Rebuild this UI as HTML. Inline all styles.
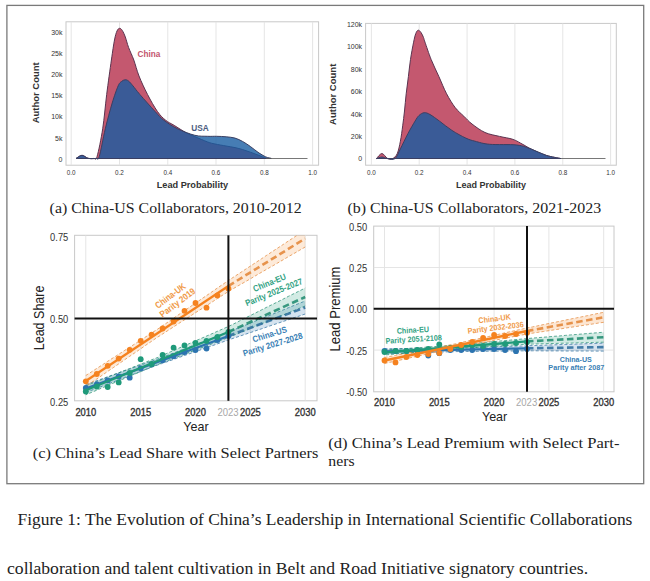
<!DOCTYPE html>
<html><head><meta charset="utf-8"><style>
html,body{margin:0;padding:0;background:#fff;width:650px;height:581px;overflow:hidden}
svg{display:block}
text{font-family:"Liberation Sans", sans-serif}
text.serif{font-family:"Liberation Serif", serif}
</style></head><body>
<svg width="650" height="581" viewBox="0 0 650 581">
<rect x="6.9" y="5.4" width="636.8" height="478.3" fill="none" stroke="#7a7a7a" stroke-width="1.3"/>
<rect x="66.0" y="21.8" width="252.6" height="143.4" fill="#fff" stroke="#c8c8c8" stroke-width="1"/>
<line x1="71.2" y1="21.8" x2="71.2" y2="165.2" stroke="#e2e2e2" stroke-width="0.9"/>
<line x1="119.5" y1="21.8" x2="119.5" y2="165.2" stroke="#e2e2e2" stroke-width="0.9"/>
<line x1="167.8" y1="21.8" x2="167.8" y2="165.2" stroke="#e2e2e2" stroke-width="0.9"/>
<line x1="216.0" y1="21.8" x2="216.0" y2="165.2" stroke="#e2e2e2" stroke-width="0.9"/>
<line x1="264.3" y1="21.8" x2="264.3" y2="165.2" stroke="#e2e2e2" stroke-width="0.9"/>
<line x1="312.6" y1="21.8" x2="312.6" y2="165.2" stroke="#e2e2e2" stroke-width="0.9"/>
<path d="M76.00,158.50 C77.00,157.97 80.00,155.33 82.00,155.30 C84.00,155.27 86.00,157.78 88.00,158.30 C90.00,158.82 92.48,158.72 94.00,158.40 C95.52,158.08 95.65,161.33 97.10,156.40 C98.55,151.47 101.10,139.13 102.70,128.80 C104.30,118.47 105.25,105.87 106.70,94.40 C108.15,82.93 110.10,69.07 111.40,60.00 C112.70,50.93 113.57,44.83 114.50,40.00 C115.43,35.17 116.15,32.95 117.00,31.00 C117.85,29.05 118.72,28.38 119.60,28.30 C120.48,28.22 121.35,29.05 122.30,30.50 C123.25,31.95 124.25,34.17 125.30,37.00 C126.35,39.83 127.18,43.67 128.60,47.50 C130.02,51.33 132.07,55.25 133.80,60.00 C135.53,64.75 136.72,70.27 139.00,76.00 C141.28,81.73 144.42,88.47 147.50,94.40 C150.58,100.33 154.48,107.30 157.50,111.60 C160.52,115.90 162.82,117.90 165.60,120.20 C168.38,122.50 170.77,123.30 174.20,125.40 C177.63,127.50 182.77,130.93 186.20,132.80 C189.63,134.67 191.22,135.07 194.80,136.60 C198.38,138.13 204.33,140.77 207.70,142.00 C211.07,143.23 211.95,143.33 215.00,144.00 C218.05,144.67 222.67,145.40 226.00,146.00 C229.33,146.60 232.22,147.00 235.00,147.60 C237.78,148.20 240.13,148.83 242.70,149.60 C245.27,150.37 247.85,151.30 250.40,152.20 C252.95,153.10 255.40,153.98 258.00,155.00 C260.60,156.02 264.67,157.75 266.00,158.30 L266.0,158.5 L76.0,158.5 Z" fill="#c4586f" stroke="#5a3450" stroke-width="1"/>
<path d="M76.00,158.50 C77.00,157.97 80.00,155.33 82.00,155.30 C84.00,155.27 85.67,157.78 88.00,158.30 C90.33,158.82 94.12,158.72 96.00,158.40 C97.88,158.08 97.75,161.33 99.30,156.40 C100.85,151.47 103.15,137.70 105.30,128.80 C107.45,119.90 110.05,110.17 112.20,103.00 C114.35,95.83 116.65,89.38 118.20,85.80 C119.75,82.22 120.35,82.50 121.50,81.50 C122.65,80.50 123.93,79.88 125.10,79.80 C126.27,79.72 127.20,80.00 128.50,81.00 C129.80,82.00 131.02,83.57 132.90,85.80 C134.78,88.03 136.08,90.10 139.80,94.40 C143.52,98.70 151.20,107.30 155.20,111.60 C159.20,115.90 160.07,117.33 163.80,120.20 C167.53,123.07 172.43,126.28 177.60,128.80 C182.77,131.32 189.78,134.05 194.80,135.30 C199.82,136.55 204.08,136.13 207.70,136.30 C211.32,136.47 213.42,136.22 216.50,136.30 C219.58,136.38 223.12,136.50 226.20,136.80 C229.28,137.10 232.25,137.32 235.00,138.10 C237.75,138.88 240.13,140.10 242.70,141.50 C245.27,142.90 247.85,144.70 250.40,146.50 C252.95,148.30 255.43,150.57 258.00,152.30 C260.57,154.03 263.60,155.90 265.80,156.90 C268.00,157.90 270.30,158.07 271.20,158.30 L271.2,158.5 L76.0,158.5 Z" fill="#185ca1" fill-opacity="0.8" stroke="#3a3f62" stroke-width="1"/>
<line x1="266.0" y1="158.5" x2="307.5" y2="158.5" stroke="#555" stroke-width="0.8"/>
<text x="71.2" y="174.6" font-size="6.3" text-anchor="middle" fill="#333">0.0</text>
<text x="119.5" y="174.6" font-size="6.3" text-anchor="middle" fill="#333">0.2</text>
<text x="167.8" y="174.6" font-size="6.3" text-anchor="middle" fill="#333">0.4</text>
<text x="216.0" y="174.6" font-size="6.3" text-anchor="middle" fill="#333">0.6</text>
<text x="264.3" y="174.6" font-size="6.3" text-anchor="middle" fill="#333">0.8</text>
<text x="312.6" y="174.6" font-size="6.3" text-anchor="middle" fill="#333">1.0</text>
<text x="62.5" y="34.6" font-size="7" text-anchor="end" fill="#333">30k</text>
<text x="62.5" y="55.8" font-size="7" text-anchor="end" fill="#333">25k</text>
<text x="62.5" y="77.0" font-size="7" text-anchor="end" fill="#333">20k</text>
<text x="62.5" y="98.2" font-size="7" text-anchor="end" fill="#333">15k</text>
<text x="62.5" y="119.4" font-size="7" text-anchor="end" fill="#333">10k</text>
<text x="62.5" y="140.6" font-size="7" text-anchor="end" fill="#333">5k</text>
<text x="62.5" y="161.8" font-size="7" text-anchor="end" fill="#333">0</text>
<text x="137.5" y="56.6" font-size="8.2" font-weight="bold" fill="#c2546e">China</text>
<text x="191.3" y="131.2" font-size="8.3" font-weight="bold" fill="#4d5d80">USA</text>
<text x="39.5" y="92.8" font-size="9.8" font-weight="bold" fill="#333" text-anchor="middle" textLength="61" lengthAdjust="spacingAndGlyphs" transform="rotate(-90 39.5 92.8)">Author Count</text>
<text x="192.4" y="187.8" font-size="9.2" font-weight="bold" fill="#333" text-anchor="middle">Lead Probability</text>
<rect x="365.6" y="23.4" width="250.7" height="141.8" fill="#fff" stroke="#c8c8c8" stroke-width="1"/>
<line x1="371.4" y1="23.4" x2="371.4" y2="165.2" stroke="#e2e2e2" stroke-width="0.9"/>
<line x1="419.2" y1="23.4" x2="419.2" y2="165.2" stroke="#e2e2e2" stroke-width="0.9"/>
<line x1="467.1" y1="23.4" x2="467.1" y2="165.2" stroke="#e2e2e2" stroke-width="0.9"/>
<line x1="514.9" y1="23.4" x2="514.9" y2="165.2" stroke="#e2e2e2" stroke-width="0.9"/>
<line x1="562.8" y1="23.4" x2="562.8" y2="165.2" stroke="#e2e2e2" stroke-width="0.9"/>
<line x1="610.6" y1="23.4" x2="610.6" y2="165.2" stroke="#e2e2e2" stroke-width="0.9"/>
<path d="M376.50,158.60 C377.40,157.75 380.07,153.53 381.90,153.50 C383.73,153.47 385.70,157.55 387.50,158.40 C389.30,159.25 391.07,159.42 392.70,158.60 C394.33,157.78 396.02,156.40 397.30,153.50 C398.58,150.60 399.50,145.82 400.40,141.20 C401.30,136.58 402.02,130.83 402.70,125.80 C403.38,120.77 403.92,116.33 404.50,111.00 C405.08,105.67 405.55,99.53 406.20,93.80 C406.85,88.07 407.68,82.33 408.40,76.60 C409.12,70.87 409.63,65.13 410.50,59.40 C411.37,53.67 412.72,46.52 413.60,42.20 C414.48,37.88 415.03,35.50 415.80,33.50 C416.57,31.50 417.33,30.37 418.20,30.20 C419.07,30.03 420.12,31.28 421.00,32.50 C421.88,33.72 422.83,35.88 423.50,37.50 C424.17,39.12 423.73,38.55 425.00,42.20 C426.27,45.85 428.78,53.67 431.10,59.40 C433.42,65.13 436.32,70.87 438.90,76.60 C441.48,82.33 443.88,88.63 446.60,93.80 C449.32,98.97 452.33,103.87 455.20,107.60 C458.07,111.33 461.00,113.47 463.80,116.20 C466.60,118.93 468.47,121.28 472.00,124.00 C475.53,126.72 480.42,130.43 485.00,132.50 C489.58,134.57 494.83,135.25 499.50,136.40 C504.17,137.55 509.08,138.05 513.00,139.40 C516.92,140.75 519.92,142.87 523.00,144.50 C526.08,146.13 527.62,147.38 531.50,149.20 C535.38,151.02 541.38,153.83 546.30,155.40 C551.22,156.97 558.55,158.07 561.00,158.60 L561.0,158.5 L376.5,158.5 Z" fill="#c4586f" stroke="#5a3450" stroke-width="1"/>
<path d="M376.50,158.60 C377.40,158.33 380.07,157.00 381.90,157.00 C383.73,157.00 385.32,158.33 387.50,158.60 C389.68,158.87 392.85,160.23 395.00,158.60 C397.15,156.97 398.23,152.98 400.40,148.80 C402.57,144.62 405.57,138.10 408.00,133.50 C410.43,128.90 413.17,124.20 415.00,121.20 C416.83,118.20 417.47,116.92 419.00,115.50 C420.53,114.08 422.37,112.87 424.20,112.70 C426.03,112.53 427.43,113.08 430.00,114.50 C432.57,115.92 435.95,118.55 439.60,121.20 C443.25,123.85 447.53,127.58 451.90,130.40 C456.27,133.22 461.95,136.30 465.80,138.10 C469.65,139.90 471.02,140.17 475.00,141.20 C478.98,142.23 482.73,143.67 489.70,144.30 C496.67,144.93 509.83,144.18 516.80,145.00 C523.77,145.82 526.58,147.47 531.50,149.20 C536.42,150.93 541.38,153.83 546.30,155.40 C551.22,156.97 558.55,158.07 561.00,158.60 L561.0,158.5 L376.5,158.5 Z" fill="#185ca1" fill-opacity="0.8" stroke="#3a3f62" stroke-width="1"/>
<line x1="561.0" y1="158.5" x2="605.5" y2="158.5" stroke="#555" stroke-width="0.8"/>
<text x="371.4" y="174.6" font-size="6.3" text-anchor="middle" fill="#333">0.0</text>
<text x="419.2" y="174.6" font-size="6.3" text-anchor="middle" fill="#333">0.2</text>
<text x="467.1" y="174.6" font-size="6.3" text-anchor="middle" fill="#333">0.4</text>
<text x="514.9" y="174.6" font-size="6.3" text-anchor="middle" fill="#333">0.6</text>
<text x="562.8" y="174.6" font-size="6.3" text-anchor="middle" fill="#333">0.8</text>
<text x="610.6" y="174.6" font-size="6.3" text-anchor="middle" fill="#333">1.0</text>
<text x="362.1" y="27.0" font-size="7" text-anchor="end" fill="#333">120k</text>
<text x="362.1" y="49.4" font-size="7" text-anchor="end" fill="#333">100k</text>
<text x="362.1" y="71.8" font-size="7" text-anchor="end" fill="#333">80k</text>
<text x="362.1" y="94.2" font-size="7" text-anchor="end" fill="#333">60k</text>
<text x="362.1" y="116.6" font-size="7" text-anchor="end" fill="#333">40k</text>
<text x="362.1" y="139.0" font-size="7" text-anchor="end" fill="#333">20k</text>
<text x="362.1" y="161.4" font-size="7" text-anchor="end" fill="#333">0</text>
<text x="336" y="94.3" font-size="9.5" font-weight="bold" fill="#333" text-anchor="middle" transform="rotate(-90 336 94.3)">Author Count</text>
<text x="491" y="187.8" font-size="9.0" font-weight="bold" fill="#333" text-anchor="middle">Lead Probability</text>
<text x="49.6" y="213.4" font-size="15.4" textLength="252" lengthAdjust="spacingAndGlyphs" fill="#222" class="serif">(a) China-US Collaborators, 2010-2012</text>
<text x="347.5" y="213.2" font-size="15.4" textLength="253.7" lengthAdjust="spacingAndGlyphs" fill="#222" class="serif">(b) China-US Collaborators, 2021-2023</text>
<text x="32.8" y="458.3" font-size="15.4" textLength="285.6" lengthAdjust="spacingAndGlyphs" fill="#222" class="serif">(c) China’s Lead Share with Select Partners</text>
<text x="328.3" y="447.7" font-size="15.4" textLength="291.2" lengthAdjust="spacingAndGlyphs" fill="#222" class="serif">(d) China’s Lead Premium with Select Part-</text>
<text x="328.3" y="465.7" font-size="15.4" textLength="26.3" lengthAdjust="spacingAndGlyphs" fill="#222" class="serif">ners</text>
<text x="17.5" y="524.9" font-size="16.2" textLength="614.9" lengthAdjust="spacingAndGlyphs" fill="#222" class="serif">Figure 1: The Evolution of China’s Leadership in International Scientific Collaborations</text>
<text x="7" y="573.8" font-size="16.2" textLength="581.1" lengthAdjust="spacingAndGlyphs" fill="#222" class="serif">collaboration and talent cultivation in Belt and Road Initiative signatory countries.</text>
<rect x="74.6" y="235.3" width="242.4" height="165.5" fill="#fff" stroke="#c8c8c8" stroke-width="1"/>
<line x1="85.8" y1="235.3" x2="85.8" y2="400.8" stroke="#e2e2e2" stroke-width="0.9"/>
<line x1="140.7" y1="235.3" x2="140.7" y2="400.8" stroke="#e2e2e2" stroke-width="0.9"/>
<line x1="195.5" y1="235.3" x2="195.5" y2="400.8" stroke="#e2e2e2" stroke-width="0.9"/>
<line x1="250.4" y1="235.3" x2="250.4" y2="400.8" stroke="#e2e2e2" stroke-width="0.9"/>
<line x1="305.2" y1="235.3" x2="305.2" y2="400.8" stroke="#e2e2e2" stroke-width="0.9"/>
<clipPath id="cc"><rect x="74.6" y="235.3" width="242.4" height="165.5"/></clipPath>
<g clip-path="url(#cc)">
<path d="M85.8,384.5 L91.3,382.6 L96.8,380.6 L102.3,378.7 L107.7,376.7 L113.2,374.8 L118.7,372.8 L124.2,370.9 L129.7,369.0 L135.2,367.0 L140.7,365.1 L146.1,363.1 L151.6,361.2 L157.1,359.2 L162.6,357.2 L168.1,355.1 L173.6,353.0 L179.0,350.9 L184.5,348.8 L190.0,346.7 L195.5,344.6 L201.0,342.5 L206.5,340.4 L212.0,338.3 L217.4,336.2 L222.9,334.1 L228.4,332.0 L233.9,329.8 L239.4,327.6 L244.9,325.4 L250.4,323.1 L255.8,320.9 L261.3,318.7 L266.8,316.5 L272.3,314.3 L277.8,312.1 L283.3,309.9 L288.7,307.6 L294.2,305.4 L299.7,303.2 L305.2,301.0 L305.2,314.0 L299.7,315.9 L294.2,317.7 L288.7,319.6 L283.3,321.4 L277.8,323.3 L272.3,325.1 L266.8,327.0 L261.3,328.9 L255.8,330.7 L250.4,332.6 L244.9,334.4 L239.4,336.3 L233.9,338.1 L228.4,340.0 L222.9,341.9 L217.4,343.9 L212.0,345.8 L206.5,347.8 L201.0,349.7 L195.5,351.7 L190.0,353.6 L184.5,355.5 L179.0,357.5 L173.6,359.4 L168.1,361.4 L162.6,363.3 L157.1,365.2 L151.6,367.3 L146.1,369.4 L140.7,371.5 L135.2,373.6 L129.7,375.7 L124.2,377.8 L118.7,379.9 L113.2,382.0 L107.7,384.1 L102.3,386.2 L96.8,388.3 L91.3,390.4 L85.8,392.5 Z" fill="#2c74b0" fill-opacity="0.20"/>
<polyline points="85.8,384.5 91.3,382.6 96.8,380.6 102.3,378.7 107.7,376.7 113.2,374.8 118.7,372.8 124.2,370.9 129.7,369.0 135.2,367.0 140.7,365.1 146.1,363.1 151.6,361.2 157.1,359.2 162.6,357.2 168.1,355.1 173.6,353.0 179.0,350.9 184.5,348.8 190.0,346.7 195.5,344.6 201.0,342.5 206.5,340.4 212.0,338.3 217.4,336.2 222.9,334.1 228.4,332.0 233.9,329.8 239.4,327.6 244.9,325.4 250.4,323.1 255.8,320.9 261.3,318.7 266.8,316.5 272.3,314.3 277.8,312.1 283.3,309.9 288.7,307.6 294.2,305.4 299.7,303.2 305.2,301.0" fill="none" stroke="#2a6c9c" stroke-width="1" stroke-dasharray="3,2" opacity="0.7"/>
<polyline points="305.2,314.0 299.7,315.9 294.2,317.7 288.7,319.6 283.3,321.4 277.8,323.3 272.3,325.1 266.8,327.0 261.3,328.9 255.8,330.7 250.4,332.6 244.9,334.4 239.4,336.3 233.9,338.1 228.4,340.0 222.9,341.9 217.4,343.9 212.0,345.8 206.5,347.8 201.0,349.7 195.5,351.7 190.0,353.6 184.5,355.5 179.0,357.5 173.6,359.4 168.1,361.4 162.6,363.3 157.1,365.2 151.6,367.3 146.1,369.4 140.7,371.5 135.2,373.6 129.7,375.7 124.2,377.8 118.7,379.9 113.2,382.0 107.7,384.1 102.3,386.2 96.8,388.3 91.3,390.4 85.8,392.5" fill="none" stroke="#2a6c9c" stroke-width="1" stroke-dasharray="3,2" opacity="0.7"/>
<path d="M85.8,385.8 L91.3,383.6 L96.8,381.5 L102.3,379.3 L107.7,377.1 L113.2,375.0 L118.7,372.8 L124.2,370.6 L129.7,368.5 L135.2,366.3 L140.7,364.1 L146.1,362.0 L151.6,359.8 L157.1,357.7 L162.6,355.3 L168.1,352.9 L173.6,350.5 L179.0,348.1 L184.5,345.7 L190.0,343.3 L195.5,340.9 L201.0,338.5 L206.5,336.1 L212.0,333.7 L217.4,331.3 L222.9,328.9 L228.4,326.5 L233.9,323.8 L239.4,321.0 L244.9,318.2 L250.4,315.5 L255.8,312.8 L261.3,310.0 L266.8,307.2 L272.3,304.5 L277.8,301.8 L283.3,299.0 L288.7,296.2 L294.2,293.5 L299.7,290.8 L305.2,288.0 L305.2,306.0 L299.7,308.2 L294.2,310.5 L288.7,312.8 L283.3,315.0 L277.8,317.2 L272.3,319.5 L266.8,321.8 L261.3,324.0 L255.8,326.2 L250.4,328.5 L244.9,330.8 L239.4,333.0 L233.9,335.2 L228.4,337.5 L222.9,339.6 L217.4,341.7 L212.0,343.8 L206.5,345.9 L201.0,347.9 L195.5,350.0 L190.0,352.1 L184.5,354.2 L179.0,356.3 L173.6,358.4 L168.1,360.5 L162.6,362.6 L157.1,364.7 L151.6,367.0 L146.1,369.3 L140.7,371.6 L135.2,373.9 L129.7,376.2 L124.2,378.6 L118.7,380.9 L113.2,383.2 L107.7,385.5 L102.3,387.8 L96.8,390.2 L91.3,392.5 L85.8,394.8 Z" fill="#1f9a7a" fill-opacity="0.20"/>
<polyline points="85.8,385.8 91.3,383.6 96.8,381.5 102.3,379.3 107.7,377.1 113.2,375.0 118.7,372.8 124.2,370.6 129.7,368.5 135.2,366.3 140.7,364.1 146.1,362.0 151.6,359.8 157.1,357.7 162.6,355.3 168.1,352.9 173.6,350.5 179.0,348.1 184.5,345.7 190.0,343.3 195.5,340.9 201.0,338.5 206.5,336.1 212.0,333.7 217.4,331.3 222.9,328.9 228.4,326.5 233.9,323.8 239.4,321.0 244.9,318.2 250.4,315.5 255.8,312.8 261.3,310.0 266.8,307.2 272.3,304.5 277.8,301.8 283.3,299.0 288.7,296.2 294.2,293.5 299.7,290.8 305.2,288.0" fill="none" stroke="#1d8a6e" stroke-width="1" stroke-dasharray="3,2" opacity="0.7"/>
<polyline points="305.2,306.0 299.7,308.2 294.2,310.5 288.7,312.8 283.3,315.0 277.8,317.2 272.3,319.5 266.8,321.8 261.3,324.0 255.8,326.2 250.4,328.5 244.9,330.8 239.4,333.0 233.9,335.2 228.4,337.5 222.9,339.6 217.4,341.7 212.0,343.8 206.5,345.9 201.0,347.9 195.5,350.0 190.0,352.1 184.5,354.2 179.0,356.3 173.6,358.4 168.1,360.5 162.6,362.6 157.1,364.7 151.6,367.0 146.1,369.3 140.7,371.6 135.2,373.9 129.7,376.2 124.2,378.6 118.7,380.9 113.2,383.2 107.7,385.5 102.3,387.8 96.8,390.2 91.3,392.5 85.8,394.8" fill="none" stroke="#1d8a6e" stroke-width="1" stroke-dasharray="3,2" opacity="0.7"/>
<path d="M85.8,375.5 L91.3,372.0 L96.8,368.4 L102.3,364.9 L107.7,361.3 L113.2,357.8 L118.7,354.3 L124.2,350.7 L129.7,347.2 L135.2,343.7 L140.7,340.1 L146.1,336.6 L151.6,333.0 L157.1,329.5 L162.6,325.7 L168.1,322.0 L173.6,318.2 L179.0,314.4 L184.5,310.7 L190.0,306.9 L195.5,303.1 L201.0,299.3 L206.5,295.6 L212.0,291.8 L217.4,288.0 L222.9,284.3 L228.4,280.5 L233.9,276.9 L239.4,273.3 L244.9,269.7 L250.4,266.1 L255.8,262.5 L261.3,258.9 L266.8,255.2 L272.3,251.6 L277.8,248.0 L283.3,244.4 L288.7,240.8 L294.2,237.2 L299.7,233.6 L305.2,230.0 L305.2,247.0 L299.7,250.2 L294.2,253.4 L288.7,256.5 L283.3,259.7 L277.8,262.9 L272.3,266.1 L266.8,269.2 L261.3,272.4 L255.8,275.6 L250.4,278.8 L244.9,282.0 L239.4,285.1 L233.9,288.3 L228.4,291.5 L222.9,295.0 L217.4,298.6 L212.0,302.1 L206.5,305.7 L201.0,309.2 L195.5,312.7 L190.0,316.3 L184.5,319.8 L179.0,323.3 L173.6,326.9 L168.1,330.4 L162.6,334.0 L157.1,337.5 L151.6,341.3 L146.1,345.0 L140.7,348.8 L135.2,352.6 L129.7,356.3 L124.2,360.1 L118.7,363.9 L113.2,367.7 L107.7,371.4 L102.3,375.2 L96.8,379.0 L91.3,382.7 L85.8,386.5 Z" fill="#f5821f" fill-opacity="0.17"/>
<polyline points="85.8,375.5 91.3,372.0 96.8,368.4 102.3,364.9 107.7,361.3 113.2,357.8 118.7,354.3 124.2,350.7 129.7,347.2 135.2,343.7 140.7,340.1 146.1,336.6 151.6,333.0 157.1,329.5 162.6,325.7 168.1,322.0 173.6,318.2 179.0,314.4 184.5,310.7 190.0,306.9 195.5,303.1 201.0,299.3 206.5,295.6 212.0,291.8 217.4,288.0 222.9,284.3 228.4,280.5 233.9,276.9 239.4,273.3 244.9,269.7 250.4,266.1 255.8,262.5 261.3,258.9 266.8,255.2 272.3,251.6 277.8,248.0 283.3,244.4 288.7,240.8 294.2,237.2 299.7,233.6 305.2,230.0" fill="none" stroke="#e38434" stroke-width="1" stroke-dasharray="3,2" opacity="0.7"/>
<polyline points="305.2,247.0 299.7,250.2 294.2,253.4 288.7,256.5 283.3,259.7 277.8,262.9 272.3,266.1 266.8,269.2 261.3,272.4 255.8,275.6 250.4,278.8 244.9,282.0 239.4,285.1 233.9,288.3 228.4,291.5 222.9,295.0 217.4,298.6 212.0,302.1 206.5,305.7 201.0,309.2 195.5,312.7 190.0,316.3 184.5,319.8 179.0,323.3 173.6,326.9 168.1,330.4 162.6,334.0 157.1,337.5 151.6,341.3 146.1,345.0 140.7,348.8 135.2,352.6 129.7,356.3 124.2,360.1 118.7,363.9 113.2,367.7 107.7,371.4 102.3,375.2 96.8,379.0 91.3,382.7 85.8,386.5" fill="none" stroke="#e38434" stroke-width="1" stroke-dasharray="3,2" opacity="0.7"/>
<line x1="85.8" y1="388.5" x2="228.4" y2="336.0" stroke="#2c74b0" stroke-width="2.3"/>
<line x1="228.4" y1="336.0" x2="305.2" y2="307.5" stroke="#2a6c9c" stroke-width="2.6" stroke-dasharray="6.5,3.5" opacity="0.85"/>
<circle cx="85.8" cy="388.0" r="2.9" fill="#2c74b0"/>
<circle cx="96.8" cy="384.5" r="2.9" fill="#2c74b0"/>
<circle cx="107.7" cy="380.4" r="2.9" fill="#2c74b0"/>
<circle cx="118.7" cy="376.4" r="2.9" fill="#2c74b0"/>
<circle cx="129.7" cy="377.7" r="2.9" fill="#2c74b0"/>
<circle cx="140.7" cy="368.3" r="2.9" fill="#2c74b0"/>
<circle cx="151.6" cy="364.3" r="2.9" fill="#2c74b0"/>
<circle cx="162.6" cy="360.2" r="2.9" fill="#2c74b0"/>
<circle cx="173.6" cy="356.2" r="2.9" fill="#2c74b0"/>
<circle cx="184.5" cy="352.1" r="2.9" fill="#2c74b0"/>
<circle cx="195.5" cy="350.0" r="2.9" fill="#2c74b0"/>
<circle cx="206.5" cy="348.5" r="2.9" fill="#2c74b0"/>
<circle cx="217.4" cy="340.0" r="2.9" fill="#2c74b0"/>
<circle cx="228.4" cy="336.0" r="2.9" fill="#2c74b0"/>
<line x1="85.8" y1="390.3" x2="228.4" y2="332.0" stroke="#1f9a7a" stroke-width="2.3"/>
<line x1="228.4" y1="332.0" x2="305.2" y2="297.0" stroke="#1d8a6e" stroke-width="2.6" stroke-dasharray="6.5,3.5" opacity="0.85"/>
<circle cx="85.8" cy="391.5" r="2.9" fill="#1f9a7a"/>
<circle cx="96.8" cy="386.5" r="2.9" fill="#1f9a7a"/>
<circle cx="107.7" cy="387.0" r="2.9" fill="#1f9a7a"/>
<circle cx="118.7" cy="382.4" r="2.9" fill="#1f9a7a"/>
<circle cx="129.7" cy="373.0" r="2.9" fill="#1f9a7a"/>
<circle cx="140.7" cy="359.2" r="2.9" fill="#1f9a7a"/>
<circle cx="151.6" cy="364.0" r="2.9" fill="#1f9a7a"/>
<circle cx="162.6" cy="355.0" r="2.9" fill="#1f9a7a"/>
<circle cx="173.6" cy="347.7" r="2.9" fill="#1f9a7a"/>
<circle cx="184.5" cy="345.4" r="2.9" fill="#1f9a7a"/>
<circle cx="195.5" cy="343.0" r="2.9" fill="#1f9a7a"/>
<circle cx="206.5" cy="341.0" r="2.9" fill="#1f9a7a"/>
<circle cx="217.4" cy="337.0" r="2.9" fill="#1f9a7a"/>
<circle cx="228.4" cy="332.0" r="2.9" fill="#1f9a7a"/>
<line x1="85.8" y1="381.0" x2="228.4" y2="286.0" stroke="#f5821f" stroke-width="2.3"/>
<line x1="228.4" y1="286.0" x2="305.2" y2="238.5" stroke="#e38434" stroke-width="2.6" stroke-dasharray="6.5,3.5" opacity="0.85"/>
<circle cx="85.8" cy="381.3" r="2.9" fill="#f5821f"/>
<circle cx="96.8" cy="374.0" r="2.9" fill="#f5821f"/>
<circle cx="107.7" cy="365.8" r="2.9" fill="#f5821f"/>
<circle cx="118.7" cy="358.6" r="2.9" fill="#f5821f"/>
<circle cx="129.7" cy="349.8" r="2.9" fill="#f5821f"/>
<circle cx="140.7" cy="340.8" r="2.9" fill="#f5821f"/>
<circle cx="151.6" cy="334.6" r="2.9" fill="#f5821f"/>
<circle cx="162.6" cy="328.5" r="2.9" fill="#f5821f"/>
<circle cx="173.6" cy="321.5" r="2.9" fill="#f5821f"/>
<circle cx="184.5" cy="310.8" r="2.9" fill="#f5821f"/>
<circle cx="195.5" cy="303.0" r="2.9" fill="#f5821f"/>
<circle cx="206.5" cy="307.7" r="2.9" fill="#f5821f"/>
<circle cx="217.4" cy="295.4" r="2.9" fill="#f5821f"/>
<circle cx="228.4" cy="288.5" r="2.9" fill="#f5821f"/>
</g>
<line x1="74.6" y1="318.5" x2="317.0" y2="318.5" stroke="#111" stroke-width="2"/>
<line x1="228.4" y1="235.3" x2="228.4" y2="400.8" stroke="#111" stroke-width="2"/>
<text x="85.8" y="415.5" font-size="10.5" text-anchor="middle" fill="#333" stroke="#333" stroke-width="0.35" textLength="20.8" lengthAdjust="spacingAndGlyphs">2010</text>
<text x="140.7" y="415.5" font-size="10.5" text-anchor="middle" fill="#333" stroke="#333" stroke-width="0.35" textLength="20.8" lengthAdjust="spacingAndGlyphs">2015</text>
<text x="195.5" y="415.5" font-size="10.5" text-anchor="middle" fill="#333" stroke="#333" stroke-width="0.35" textLength="20.8" lengthAdjust="spacingAndGlyphs">2020</text>
<text x="250.4" y="415.5" font-size="10.5" text-anchor="middle" fill="#333" stroke="#333" stroke-width="0.35" textLength="20.8" lengthAdjust="spacingAndGlyphs">2025</text>
<text x="305.2" y="415.5" font-size="10.5" text-anchor="middle" fill="#333" stroke="#333" stroke-width="0.35" textLength="20.8" lengthAdjust="spacingAndGlyphs">2030</text>
<text x="228.0" y="415.5" font-size="10.5" text-anchor="middle" fill="#a8a8a8" textLength="21.2" lengthAdjust="spacingAndGlyphs">2023</text>
<text x="68.3" y="240.6" font-size="10.4" text-anchor="end" fill="#333" textLength="18.2" lengthAdjust="spacingAndGlyphs">0.75</text>
<text x="68.3" y="323.1" font-size="10.4" text-anchor="end" fill="#333" textLength="18.2" lengthAdjust="spacingAndGlyphs">0.50</text>
<text x="68.3" y="405.6" font-size="10.4" text-anchor="end" fill="#333" textLength="18.2" lengthAdjust="spacingAndGlyphs">0.25</text>
<text x="196.0" y="430.8" font-size="13" text-anchor="middle" fill="#222" textLength="25.3" lengthAdjust="spacingAndGlyphs">Year</text>
<text x="44.0" y="317.9" font-size="14.5" text-anchor="middle" fill="#222" transform="rotate(-90 44.0 317.9)" textLength="64.7" lengthAdjust="spacingAndGlyphs">Lead Share</text>
<g transform="translate(172.2,298.2) rotate(-37.0)"><text x="0.0" y="0.0" font-size="9.2" font-weight="bold" fill="#f09a48" text-anchor="middle" textLength="35.5" lengthAdjust="spacingAndGlyphs">China-UK</text><text x="1.5" y="9.8" font-size="9.2" font-weight="bold" fill="#f09a48" text-anchor="middle" textLength="42.0" lengthAdjust="spacingAndGlyphs">Parity 2019</text></g>
<g transform="translate(270.6,285.4) rotate(-22.0)"><text x="0.0" y="0.0" font-size="8.8" font-weight="bold" fill="#32a283" text-anchor="middle" textLength="34.8" lengthAdjust="spacingAndGlyphs">China-EU</text><text x="0.5" y="10.5" font-size="8.8" font-weight="bold" fill="#32a283" text-anchor="middle" textLength="61.0" lengthAdjust="spacingAndGlyphs">Parity 2025-2027</text></g>
<g transform="translate(270.5,337.2) rotate(-17.0)"><text x="0.0" y="0.0" font-size="8.8" font-weight="bold" fill="#3a7fb5" text-anchor="middle" textLength="35.5" lengthAdjust="spacingAndGlyphs">China-US</text><text x="0.0" y="10.6" font-size="8.8" font-weight="bold" fill="#3a7fb5" text-anchor="middle" textLength="62.0" lengthAdjust="spacingAndGlyphs">Parity 2027-2028</text></g>
<rect x="373.7" y="226.1" width="240.3" height="165.7" fill="#fff" stroke="#c8c8c8" stroke-width="1"/>
<line x1="384.5" y1="226.1" x2="384.5" y2="391.8" stroke="#e2e2e2" stroke-width="0.9"/>
<line x1="439.3" y1="226.1" x2="439.3" y2="391.8" stroke="#e2e2e2" stroke-width="0.9"/>
<line x1="494.1" y1="226.1" x2="494.1" y2="391.8" stroke="#e2e2e2" stroke-width="0.9"/>
<line x1="548.9" y1="226.1" x2="548.9" y2="391.8" stroke="#e2e2e2" stroke-width="0.9"/>
<line x1="603.7" y1="226.1" x2="603.7" y2="391.8" stroke="#e2e2e2" stroke-width="0.9"/>
<line x1="373.7" y1="267.5" x2="614.0" y2="267.5" stroke="#e2e2e2" stroke-width="0.9"/>
<line x1="373.7" y1="350.1" x2="614.0" y2="350.1" stroke="#e2e2e2" stroke-width="0.9"/>
<clipPath id="cd"><rect x="373.7" y="226.1" width="240.3" height="165.7"/></clipPath>
<g clip-path="url(#cd)">
<path d="M384.5,348.8 L390.0,348.7 L395.5,348.7 L400.9,348.6 L406.4,348.6 L411.9,348.5 L417.4,348.4 L422.9,348.4 L428.3,348.3 L433.8,348.2 L439.3,348.2 L444.8,348.1 L450.3,348.1 L455.7,348.0 L461.2,347.8 L466.7,347.7 L472.2,347.5 L477.7,347.3 L483.1,347.2 L488.6,347.0 L494.1,346.8 L499.6,346.6 L505.1,346.5 L510.5,346.3 L516.0,346.1 L521.5,346.0 L527.0,345.8 L532.5,345.6 L537.9,345.4 L543.4,345.2 L548.9,345.0 L554.4,344.8 L559.9,344.6 L565.3,344.5 L570.8,344.3 L576.3,344.1 L581.8,343.9 L587.3,343.7 L592.7,343.5 L598.2,343.3 L603.7,343.1 L603.7,351.1 L598.2,351.1 L592.7,351.1 L587.3,351.0 L581.8,351.0 L576.3,351.0 L570.8,351.0 L565.3,351.0 L559.9,350.9 L554.4,350.9 L548.9,350.9 L543.4,350.9 L537.9,350.8 L532.5,350.8 L527.0,350.8 L521.5,350.9 L516.0,350.9 L510.5,351.0 L505.1,351.0 L499.6,351.1 L494.1,351.2 L488.6,351.2 L483.1,351.3 L477.7,351.4 L472.2,351.4 L466.7,351.5 L461.2,351.5 L455.7,351.6 L450.3,351.8 L444.8,351.9 L439.3,352.1 L433.8,352.3 L428.3,352.4 L422.9,352.6 L417.4,352.8 L411.9,353.0 L406.4,353.1 L400.9,353.3 L395.5,353.5 L390.0,353.6 L384.5,353.8 Z" fill="#2c74b0" fill-opacity="0.20"/>
<polyline points="384.5,348.8 390.0,348.7 395.5,348.7 400.9,348.6 406.4,348.6 411.9,348.5 417.4,348.4 422.9,348.4 428.3,348.3 433.8,348.2 439.3,348.2 444.8,348.1 450.3,348.1 455.7,348.0 461.2,347.8 466.7,347.7 472.2,347.5 477.7,347.3 483.1,347.2 488.6,347.0 494.1,346.8 499.6,346.6 505.1,346.5 510.5,346.3 516.0,346.1 521.5,346.0 527.0,345.8 532.5,345.6 537.9,345.4 543.4,345.2 548.9,345.0 554.4,344.8 559.9,344.6 565.3,344.5 570.8,344.3 576.3,344.1 581.8,343.9 587.3,343.7 592.7,343.5 598.2,343.3 603.7,343.1" fill="none" stroke="#2a6c9c" stroke-width="1" stroke-dasharray="3,2" opacity="0.7"/>
<polyline points="603.7,351.1 598.2,351.1 592.7,351.1 587.3,351.0 581.8,351.0 576.3,351.0 570.8,351.0 565.3,351.0 559.9,350.9 554.4,350.9 548.9,350.9 543.4,350.9 537.9,350.8 532.5,350.8 527.0,350.8 521.5,350.9 516.0,350.9 510.5,351.0 505.1,351.0 499.6,351.1 494.1,351.2 488.6,351.2 483.1,351.3 477.7,351.4 472.2,351.4 466.7,351.5 461.2,351.5 455.7,351.6 450.3,351.8 444.8,351.9 439.3,352.1 433.8,352.3 428.3,352.4 422.9,352.6 417.4,352.8 411.9,353.0 406.4,353.1 400.9,353.3 395.5,353.5 390.0,353.6 384.5,353.8" fill="none" stroke="#2a6c9c" stroke-width="1" stroke-dasharray="3,2" opacity="0.7"/>
<path d="M384.5,350.0 L390.0,349.6 L395.5,349.3 L400.9,348.9 L406.4,348.5 L411.9,348.1 L417.4,347.8 L422.9,347.4 L428.3,347.0 L433.8,346.6 L439.3,346.3 L444.8,345.9 L450.3,345.5 L455.7,345.1 L461.2,344.6 L466.7,344.1 L472.2,343.6 L477.7,343.1 L483.1,342.6 L488.6,342.1 L494.1,341.6 L499.6,341.1 L505.1,340.6 L510.5,340.1 L516.0,339.6 L521.5,339.1 L527.0,338.6 L532.5,338.1 L537.9,337.7 L543.4,337.2 L548.9,336.8 L554.4,336.3 L559.9,335.9 L565.3,335.4 L570.8,334.9 L576.3,334.5 L581.8,334.0 L587.3,333.6 L592.7,333.1 L598.2,332.7 L603.7,332.2 L603.7,342.2 L598.2,342.3 L592.7,342.5 L587.3,342.6 L581.8,342.8 L576.3,342.9 L570.8,343.1 L565.3,343.2 L559.9,343.3 L554.4,343.5 L548.9,343.6 L543.4,343.8 L537.9,343.9 L532.5,344.1 L527.0,344.2 L521.5,344.5 L516.0,344.9 L510.5,345.2 L505.1,345.6 L499.6,345.9 L494.1,346.3 L488.6,346.6 L483.1,347.0 L477.7,347.4 L472.2,347.7 L466.7,348.0 L461.2,348.4 L455.7,348.8 L450.3,349.2 L444.8,349.7 L439.3,350.2 L433.8,350.7 L428.3,351.2 L422.9,351.6 L417.4,352.1 L411.9,352.6 L406.4,353.1 L400.9,353.6 L395.5,354.0 L390.0,354.5 L384.5,355.0 Z" fill="#1f9a7a" fill-opacity="0.20"/>
<polyline points="384.5,350.0 390.0,349.6 395.5,349.3 400.9,348.9 406.4,348.5 411.9,348.1 417.4,347.8 422.9,347.4 428.3,347.0 433.8,346.6 439.3,346.3 444.8,345.9 450.3,345.5 455.7,345.1 461.2,344.6 466.7,344.1 472.2,343.6 477.7,343.1 483.1,342.6 488.6,342.1 494.1,341.6 499.6,341.1 505.1,340.6 510.5,340.1 516.0,339.6 521.5,339.1 527.0,338.6 532.5,338.1 537.9,337.7 543.4,337.2 548.9,336.8 554.4,336.3 559.9,335.9 565.3,335.4 570.8,334.9 576.3,334.5 581.8,334.0 587.3,333.6 592.7,333.1 598.2,332.7 603.7,332.2" fill="none" stroke="#1d8a6e" stroke-width="1" stroke-dasharray="3,2" opacity="0.7"/>
<polyline points="603.7,342.2 598.2,342.3 592.7,342.5 587.3,342.6 581.8,342.8 576.3,342.9 570.8,343.1 565.3,343.2 559.9,343.3 554.4,343.5 548.9,343.6 543.4,343.8 537.9,343.9 532.5,344.1 527.0,344.2 521.5,344.5 516.0,344.9 510.5,345.2 505.1,345.6 499.6,345.9 494.1,346.3 488.6,346.6 483.1,347.0 477.7,347.4 472.2,347.7 466.7,348.0 461.2,348.4 455.7,348.8 450.3,349.2 444.8,349.7 439.3,350.2 433.8,350.7 428.3,351.2 422.9,351.6 417.4,352.1 411.9,352.6 406.4,353.1 400.9,353.6 395.5,354.0 390.0,354.5 384.5,355.0" fill="none" stroke="#1d8a6e" stroke-width="1" stroke-dasharray="3,2" opacity="0.7"/>
<path d="M384.5,357.5 L390.0,356.4 L395.5,355.4 L400.9,354.3 L406.4,353.3 L411.9,352.2 L417.4,351.2 L422.9,350.1 L428.3,349.0 L433.8,348.0 L439.3,346.9 L444.8,345.9 L450.3,344.8 L455.7,343.8 L461.2,342.5 L466.7,341.3 L472.2,340.1 L477.7,338.9 L483.1,337.7 L488.6,336.5 L494.1,335.3 L499.6,334.1 L505.1,332.8 L510.5,331.6 L516.0,330.4 L521.5,329.2 L527.0,328.0 L532.5,326.9 L537.9,325.8 L543.4,324.6 L548.9,323.5 L554.4,322.4 L559.9,321.3 L565.3,320.1 L570.8,319.0 L576.3,317.9 L581.8,316.8 L587.3,315.7 L592.7,314.5 L598.2,313.4 L603.7,312.3 L603.7,322.3 L598.2,323.1 L592.7,324.0 L587.3,324.8 L581.8,325.6 L576.3,326.5 L570.8,327.3 L565.3,328.1 L559.9,329.0 L554.4,329.8 L548.9,330.7 L543.4,331.5 L537.9,332.3 L532.5,333.2 L527.0,334.0 L521.5,335.1 L516.0,336.1 L510.5,337.2 L505.1,338.2 L499.6,339.3 L494.1,340.3 L488.6,341.4 L483.1,342.5 L477.7,343.5 L472.2,344.6 L466.7,345.6 L461.2,346.7 L455.7,347.8 L450.3,349.0 L444.8,350.2 L439.3,351.4 L433.8,352.6 L428.3,353.8 L422.9,355.0 L417.4,356.2 L411.9,357.4 L406.4,358.7 L400.9,359.9 L395.5,361.1 L390.0,362.3 L384.5,363.5 Z" fill="#f5821f" fill-opacity="0.20"/>
<polyline points="384.5,357.5 390.0,356.4 395.5,355.4 400.9,354.3 406.4,353.3 411.9,352.2 417.4,351.2 422.9,350.1 428.3,349.0 433.8,348.0 439.3,346.9 444.8,345.9 450.3,344.8 455.7,343.8 461.2,342.5 466.7,341.3 472.2,340.1 477.7,338.9 483.1,337.7 488.6,336.5 494.1,335.3 499.6,334.1 505.1,332.8 510.5,331.6 516.0,330.4 521.5,329.2 527.0,328.0 532.5,326.9 537.9,325.8 543.4,324.6 548.9,323.5 554.4,322.4 559.9,321.3 565.3,320.1 570.8,319.0 576.3,317.9 581.8,316.8 587.3,315.7 592.7,314.5 598.2,313.4 603.7,312.3" fill="none" stroke="#e38434" stroke-width="1" stroke-dasharray="3,2" opacity="0.7"/>
<polyline points="603.7,322.3 598.2,323.1 592.7,324.0 587.3,324.8 581.8,325.6 576.3,326.5 570.8,327.3 565.3,328.1 559.9,329.0 554.4,329.8 548.9,330.7 543.4,331.5 537.9,332.3 532.5,333.2 527.0,334.0 521.5,335.1 516.0,336.1 510.5,337.2 505.1,338.2 499.6,339.3 494.1,340.3 488.6,341.4 483.1,342.5 477.7,343.5 472.2,344.6 466.7,345.6 461.2,346.7 455.7,347.8 450.3,349.0 444.8,350.2 439.3,351.4 433.8,352.6 428.3,353.8 422.9,355.0 417.4,356.2 411.9,357.4 406.4,358.7 400.9,359.9 395.5,361.1 390.0,362.3 384.5,363.5" fill="none" stroke="#e38434" stroke-width="1" stroke-dasharray="3,2" opacity="0.7"/>
<line x1="384.5" y1="351.3" x2="527.0" y2="348.3" stroke="#2c74b0" stroke-width="2.3"/>
<line x1="527.0" y1="348.3" x2="603.7" y2="347.1" stroke="#2a6c9c" stroke-width="2.6" stroke-dasharray="6.5,3.5" opacity="0.85"/>
<circle cx="384.5" cy="351.0" r="2.9" fill="#2c74b0"/>
<circle cx="395.5" cy="351.0" r="2.9" fill="#2c74b0"/>
<circle cx="406.4" cy="351.0" r="2.9" fill="#2c74b0"/>
<circle cx="417.4" cy="350.5" r="2.9" fill="#2c74b0"/>
<circle cx="428.3" cy="355.6" r="2.9" fill="#2c74b0"/>
<circle cx="439.3" cy="353.2" r="2.9" fill="#2c74b0"/>
<circle cx="450.3" cy="350.0" r="2.9" fill="#2c74b0"/>
<circle cx="461.2" cy="350.0" r="2.9" fill="#2c74b0"/>
<circle cx="472.2" cy="350.0" r="2.9" fill="#2c74b0"/>
<circle cx="483.1" cy="349.0" r="2.9" fill="#2c74b0"/>
<circle cx="494.1" cy="349.0" r="2.9" fill="#2c74b0"/>
<circle cx="505.1" cy="350.0" r="2.9" fill="#2c74b0"/>
<circle cx="516.0" cy="351.2" r="2.9" fill="#2c74b0"/>
<circle cx="527.0" cy="349.0" r="2.9" fill="#2c74b0"/>
<line x1="384.5" y1="352.5" x2="527.0" y2="341.4" stroke="#1f9a7a" stroke-width="2.3"/>
<line x1="527.0" y1="341.4" x2="603.7" y2="337.2" stroke="#1d8a6e" stroke-width="2.6" stroke-dasharray="6.5,3.5" opacity="0.85"/>
<circle cx="384.5" cy="352.0" r="2.9" fill="#1f9a7a"/>
<circle cx="395.5" cy="351.0" r="2.9" fill="#1f9a7a"/>
<circle cx="406.4" cy="351.0" r="2.9" fill="#1f9a7a"/>
<circle cx="417.4" cy="350.0" r="2.9" fill="#1f9a7a"/>
<circle cx="428.3" cy="349.0" r="2.9" fill="#1f9a7a"/>
<circle cx="439.3" cy="344.5" r="2.9" fill="#1f9a7a"/>
<circle cx="450.3" cy="348.0" r="2.9" fill="#1f9a7a"/>
<circle cx="461.2" cy="347.0" r="2.9" fill="#1f9a7a"/>
<circle cx="472.2" cy="345.0" r="2.9" fill="#1f9a7a"/>
<circle cx="483.1" cy="346.0" r="2.9" fill="#1f9a7a"/>
<circle cx="494.1" cy="344.0" r="2.9" fill="#1f9a7a"/>
<circle cx="505.1" cy="344.0" r="2.9" fill="#1f9a7a"/>
<circle cx="516.0" cy="343.0" r="2.9" fill="#1f9a7a"/>
<circle cx="527.0" cy="342.0" r="2.9" fill="#1f9a7a"/>
<line x1="384.5" y1="360.5" x2="527.0" y2="331.0" stroke="#f5821f" stroke-width="2.3"/>
<line x1="527.0" y1="331.0" x2="603.7" y2="317.3" stroke="#e38434" stroke-width="2.6" stroke-dasharray="6.5,3.5" opacity="0.85"/>
<circle cx="384.5" cy="360.5" r="2.9" fill="#f5821f"/>
<circle cx="395.5" cy="362.4" r="2.9" fill="#f5821f"/>
<circle cx="406.4" cy="357.0" r="2.9" fill="#f5821f"/>
<circle cx="417.4" cy="355.0" r="2.9" fill="#f5821f"/>
<circle cx="428.3" cy="354.0" r="2.9" fill="#f5821f"/>
<circle cx="439.3" cy="353.0" r="2.9" fill="#f5821f"/>
<circle cx="450.3" cy="349.0" r="2.9" fill="#f5821f"/>
<circle cx="461.2" cy="345.0" r="2.9" fill="#f5821f"/>
<circle cx="472.2" cy="342.0" r="2.9" fill="#f5821f"/>
<circle cx="483.1" cy="338.0" r="2.9" fill="#f5821f"/>
<circle cx="494.1" cy="335.0" r="2.9" fill="#f5821f"/>
<circle cx="505.1" cy="336.0" r="2.9" fill="#f5821f"/>
<circle cx="516.0" cy="334.0" r="2.9" fill="#f5821f"/>
<circle cx="527.0" cy="332.7" r="2.9" fill="#f5821f"/>
</g>
<line x1="373.7" y1="308.8" x2="614.0" y2="308.8" stroke="#111" stroke-width="2"/>
<line x1="527.0" y1="226.1" x2="527.0" y2="391.8" stroke="#111" stroke-width="2"/>
<text x="384.5" y="405.5" font-size="10.5" text-anchor="middle" fill="#333" stroke="#333" stroke-width="0.35" textLength="20.8" lengthAdjust="spacingAndGlyphs">2010</text>
<text x="439.3" y="405.5" font-size="10.5" text-anchor="middle" fill="#333" stroke="#333" stroke-width="0.35" textLength="20.8" lengthAdjust="spacingAndGlyphs">2015</text>
<text x="494.1" y="405.5" font-size="10.5" text-anchor="middle" fill="#333" stroke="#333" stroke-width="0.35" textLength="20.8" lengthAdjust="spacingAndGlyphs">2020</text>
<text x="548.9" y="405.5" font-size="10.5" text-anchor="middle" fill="#333" stroke="#333" stroke-width="0.35" textLength="20.8" lengthAdjust="spacingAndGlyphs">2025</text>
<text x="603.7" y="405.5" font-size="10.5" text-anchor="middle" fill="#333" stroke="#333" stroke-width="0.35" textLength="20.8" lengthAdjust="spacingAndGlyphs">2030</text>
<text x="526.6" y="405.5" font-size="10.5" text-anchor="middle" fill="#a8a8a8" textLength="21.2" lengthAdjust="spacingAndGlyphs">2023</text>
<text x="367.2" y="230.8" font-size="10.4" text-anchor="end" fill="#333" textLength="18.2" lengthAdjust="spacingAndGlyphs">0.50</text>
<text x="367.2" y="272.1" font-size="10.4" text-anchor="end" fill="#333" textLength="18.2" lengthAdjust="spacingAndGlyphs">0.25</text>
<text x="367.2" y="313.4" font-size="10.4" text-anchor="end" fill="#333" textLength="18.2" lengthAdjust="spacingAndGlyphs">0.00</text>
<text x="367.2" y="354.7" font-size="10.4" text-anchor="end" fill="#333" textLength="21.0" lengthAdjust="spacingAndGlyphs">-0.25</text>
<text x="367.2" y="396.0" font-size="10.4" text-anchor="end" fill="#333" textLength="21.0" lengthAdjust="spacingAndGlyphs">-0.50</text>
<text x="494.6" y="420.8" font-size="13" text-anchor="middle" fill="#222" textLength="25.3" lengthAdjust="spacingAndGlyphs">Year</text>
<text x="340.2" y="309.0" font-size="14.5" text-anchor="middle" fill="#222" transform="rotate(-90 340.2 309.0)" textLength="84.8" lengthAdjust="spacingAndGlyphs">Lead Premium</text>
<g transform="translate(413.0,332.8) rotate(-3.5)"><text x="0.0" y="0.0" font-size="8.0" font-weight="bold" fill="#32a283" text-anchor="middle" textLength="32.3" lengthAdjust="spacingAndGlyphs">China-EU</text><text x="0.3" y="9.2" font-size="8.0" font-weight="bold" fill="#32a283" text-anchor="middle" textLength="56.3" lengthAdjust="spacingAndGlyphs">Parity 2051-2108</text></g>
<g transform="translate(494.9,321.4) rotate(-6.9)"><text x="0.0" y="0.0" font-size="8.0" font-weight="bold" fill="#f09a48" text-anchor="middle" textLength="32.5" lengthAdjust="spacingAndGlyphs">China-UK</text><text x="0.0" y="9.0" font-size="8.0" font-weight="bold" fill="#f09a48" text-anchor="middle" textLength="56.5" lengthAdjust="spacingAndGlyphs">Parity 2032-2036</text></g>
<g transform="translate(575.8,362.0) rotate(0.0)"><text x="0.0" y="0.0" font-size="8.0" font-weight="bold" fill="#3a7fb5" text-anchor="middle" textLength="32.1" lengthAdjust="spacingAndGlyphs">China-US</text><text x="0.5" y="8.0" font-size="8.0" font-weight="bold" fill="#3a7fb5" text-anchor="middle" textLength="55.9" lengthAdjust="spacingAndGlyphs">Parity after 2087</text></g>
</svg>
</body></html>
